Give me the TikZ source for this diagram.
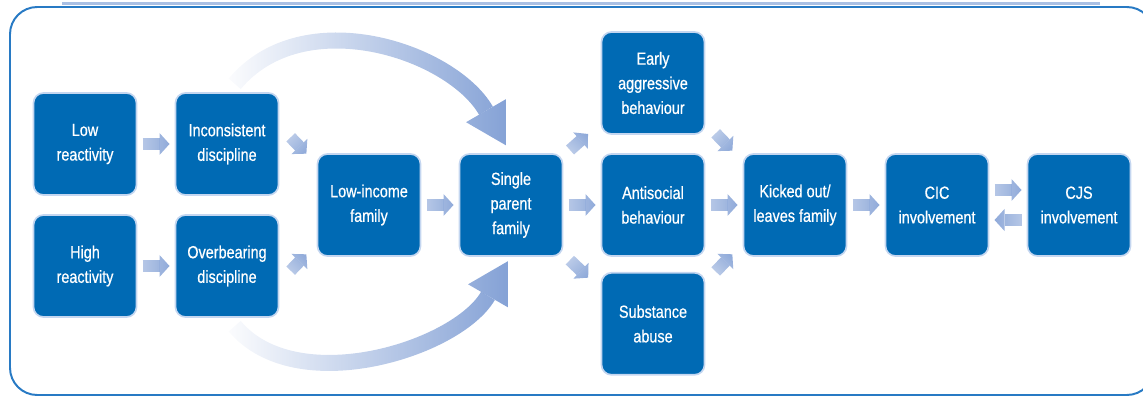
\documentclass[tikz,border=0pt]{standalone}
\usepackage{fontspec}
\usepackage{xcolor}
\usepackage{tikz}
\usetikzlibrary{arrows.meta, positioning, fadings}
\newfontfamily\boxfont[FakeStretch=0.82, FakeBold=0.6]{Liberation Sans}
\definecolor{boxblue}{RGB}{0,106,180}
\definecolor{boxglow}{RGB}{196,214,240}
\definecolor{arrblue}{RGB}{128,158,212}
\definecolor{framecol}{RGB}{40,122,196}
\definecolor{paleline}{RGB}{170,192,228}
\tikzfading[name=blkfade, left color=transparent!55, right color=transparent!0]
\tikzfading[name=bigfade, left color=transparent!100, right color=transparent!0]

\begin{document}
\begin{tikzpicture}[
  node distance = 0.5cm and 0.975cm,
  box/.style   = {rectangle, rounded corners=0.25cm, minimum width=2.575cm,
                  minimum height=2.55cm, inner sep=2pt, outer sep=0pt,
                  fill=boxblue, draw=boxglow, line width=1.2pt, text=white,
                  align=center, font=\boxfont\fontsize{12.5}{17.5}\selectfont},
  blk/.style   = {line width=0.3cm, arrblue,
                  -{Triangle[length=0.25cm, width=0.55cm, line width=0pt]},
                  shorten <=0.15cm, shorten >=0.15cm, path fading=blkfade},
  bigarr/.style = {line width=0.4cm, arrblue,
                  -{Triangle[length=1cm, width=1.15cm, line width=0pt]},
                  path fading=bigfade},
]
  \useasboundingbox (0,0) rectangle (28.575,9.925);
  % outer frame
  \draw[framecol, line width=1.4pt, rounded corners=0.68cm]
    (0.25,0.05) rectangle (28.85,9.75);
  \draw[paleline, line width=2pt] (1.55,9.84) -- (27.5,9.84);

  \node[box] (lowinc) at (9.225,4.8) {Low-income\\family};
  \node[box, left=of lowinc, yshift=1.525cm] (incon) {Inconsistent\\discipline};
  \node[box, below=of incon]  (overb)  {Overbearing\\discipline};
  \node[box, left=of incon]   (low)    {Low\\reactivity};
  \node[box, left=of overb]   (high)   {High\\reactivity};
  \node[box, right=of lowinc] (single) {Single\\parent\\family};
  \node[box, right=of single] (antis)  {Antisocial\\behaviour};
  \node[box, above=of antis]  (early)  {Early\\aggressive\\behaviour};
  \node[box, below=0.42cm of antis] (subst) {Substance\\abuse};
  \node[box, right=of antis]  (kicked) {Kicked out/\\leaves family};
  \node[box, right=of kicked] (cic)    {CIC\\involvement};
  \node[box, right=of cic]    (cjs)    {CJS\\involvement};

  \draw[blk] (low)  -- (incon);
  \draw[blk] (high) -- (overb);
  \draw[blk, fading angle=-45] ([shift={(0.2,0.275)}]incon.east)
    -- ([shift={(-0.175,-0.1)}]lowinc.north west);
  \draw[blk, fading angle=45] ([shift={(0.2,-0.225)}]overb.east)
    -- ([shift={(-0.175,0.15)}]lowinc.south west);
  \draw[blk] (lowinc) -- (single);
  \draw[blk, fading angle=45] ([shift={(0.075,0)}]single.north east)
    -- ([shift={(-0.225,0.1)}]early.south west);
  \draw[blk] (single) -- (antis);
  \draw[blk, fading angle=-45] ([shift={(0.075,0)}]single.south east)
    -- ([shift={(-0.225,-0.225)}]subst.north west);
  \draw[blk, fading angle=-45] ([shift={(0.175,0.125)}]early.south east)
    -- ([shift={(-0.175,-0.025)}]kicked.north west);
  \draw[blk] (antis) -- (kicked);
  \draw[blk, fading angle=45] ([shift={(0.175,-0.075)}]subst.north east)
    -- ([shift={(-0.175,0.15)}]kicked.south west);
  \draw[blk] (kicked) -- (cic);
  \draw[blk] ([yshift=0.375cm]cic.east) -- ([yshift=0.375cm]cjs.west);
  \draw[blk, fading angle=180] ([yshift=-0.375cm]cjs.west) -- ([yshift=-0.375cm]cic.east);

  \draw[bigarr, shorten <=0.3cm, shorten >=0.25cm]
    (incon.north) to[out=50, in=120, looseness=1.05] (single.north);
  \draw[bigarr, shorten <=0.3cm, shorten >=0.15cm]
    (overb.south) to[out=-50, in=-120, looseness=0.95] (single.south);
\end{tikzpicture}
\end{document}
